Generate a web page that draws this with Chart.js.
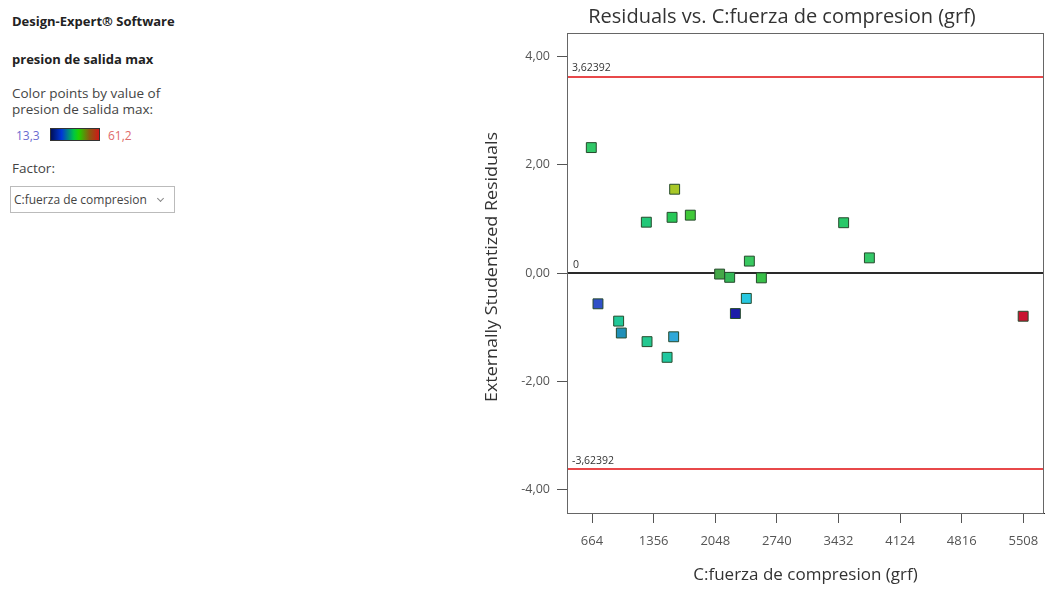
<!DOCTYPE html>
<html>
<head>
<meta charset="utf-8">
<script src="https://cdn.jsdelivr.net/npm/chart.js@4.4.1/dist/chart.umd.min.js"></script>
<style>
  html, body { margin: 0; padding: 0; background: #fff; }
  body { width: 1045px; height: 589px; position: relative; overflow: hidden; font-family: "Open Sans", sans-serif; color: #444; }
  #side { position: absolute; left: 12px; top: 0; width: 220px; font-size: 13.5px; }
  #side .b { font-weight: bold; position: absolute; left: 0; white-space: nowrap; color: #222; font-size: 13px; line-height: 18px; }
  #side .t { position: absolute; left: 0; white-space: nowrap; line-height: 18px; }
  #scale { position: absolute; left: 0; top: 126px; height: 18px; white-space: nowrap; font-size: 12px; }
  #scale .lo { position: absolute; left: 4px; top: 1px; color: #6b6bd0; }
  #scale .hi { position: absolute; left: 96px; top: 1px; color: #e06a6a; }
  #scale .bar { position: absolute; left: 38px; top: 2px; width: 50px; height: 13px; border: 1px solid #333; box-sizing: border-box;
    background: linear-gradient(to right, #00105a 0%, #0036d8 22%, #00c840 48%, #22d000 58%, #8a5a10 80%, #d01818 100%); }
  #factor { position: absolute; left: -2px; top: 186px; width: 165px; height: 27px; border: 1px solid #bbb; box-sizing: border-box; }
  #factor span { position: absolute; left: 3px; top: 4px; font-size: 12px; line-height: 17px; }
  #factor i { position: absolute; right: 11px; top: 9px; width: 4px; height: 4px; border-right: 1px solid #888; border-bottom: 1px solid #888; transform: rotate(45deg); }
  #plot { position: absolute; left: 470px; top: 0; width: 575px; height: 589px; }
</style>
</head>
<body>
<div id="side">
  <div class="b" style="top:12px">Design-Expert® Software</div>
  <div class="b" style="top:50px">presion de salida max</div>
  <div class="t" style="top:84px">Color points by value of</div>
  <div class="t" style="top:100px">presion de salida max:</div>
  <div id="scale"><span class="lo">13,3</span><span class="bar"></span><span class="hi">61,2</span></div>
  <div class="t" style="top:159px">Factor:</div>
  <div id="factor"><span>C:fuerza de compresion</span><i></i></div>
</div>
<div id="plot"><canvas id="residChart"></canvas></div>
<script>
// fuerza de compresion (grf) de cada corrida
var fuerza = [656, 1592, 1274, 1563, 1768, 2431, 2097, 2210, 2566, 2397,
              2274, 731, 963, 993, 1282, 1581, 1507, 3490, 3779, 5506];
// residuos externamente studentizados
var residuos = [2.32, 1.55, 0.94, 1.03, 1.07, 0.22, -0.02, -0.08, -0.09, -0.47,
                -0.75, -0.57, -0.89, -1.11, -1.27, -1.18, -1.56, 0.93, 0.28, -0.80];
// color de cada punto segun presion de salida max
var colores = ['#30c868', '#a8c828', '#22c878', '#28c858', '#40c838', '#38c860', '#44a848', '#34b858', '#38c048', '#28c8e0',
               '#1c1ca8', '#3050c8', '#20c898', '#2090b8', '#24c890', '#30a8d8', '#20c8a0', '#28c868', '#34c868', '#c81430'];

var xTicks = [664, 1356, 2048, 2740, 3432, 4124, 4816, 5508];
var yTicks = [-4, -2, 0, 2, 4];
var limite = 3.62392;
var xMin = 383, xMax = 5740;

function coma(v, d) { return v.toFixed(d).replace('.', ','); }

var puntos = fuerza.map(function (x, i) { return { x: x, y: residuos[i] }; });

// marco, titulo, titulo del eje Y y etiquetas de las lineas
var textos = {
    id: 'textos',
    afterDraw: function (chart) {
        var c = chart.ctx, a = chart.chartArea, ys = chart.scales.y;
        c.save();
        c.strokeStyle = '#666';
        c.lineWidth = 1;
        c.strokeRect(a.left + 0.5, a.top + 0.5, a.right - a.left - 1, a.bottom - a.top);
        c.fillStyle = '#333';
        c.font = '20px "Open Sans"';
        c.textAlign = 'center';
        c.textBaseline = 'middle';
        c.fillText('Residuals vs. C:fuerza de compresion (grf)', a.left + 215, 17);
        c.font = '10.5px "Open Sans"';
        c.textAlign = 'left';
        c.fillText(coma(limite, 5), a.left + 5, ys.getPixelForValue(limite) - 9);
        c.fillText('0', a.left + 6, ys.getPixelForValue(0) - 8);
        c.fillText(coma(-limite, 5), a.left + 5, ys.getPixelForValue(-limite) - 8);
        c.translate(a.left - 75, a.top + 234);
        c.rotate(-Math.PI / 2);
        c.scale(1.12, 1);
        c.textAlign = 'center';
        c.font = '16px "Open Sans"';
        c.fillText('Externally Studentized Residuals', 0, 0);
        c.restore();
    }
};

var ctx = document.getElementById('residChart').getContext('2d');
var chart = new Chart(ctx, {
    type: 'scatter',
    data: {
        datasets: [{
            data: puntos,
            pointStyle: 'rect',
            pointRadius: 7,
            backgroundColor: colores,
            borderColor: '#264a2c',
            borderWidth: 1,
            order: 0
        }, {
            type: 'line',
            data: [{ x: xMin, y: limite }, { x: xMax, y: limite }],
            borderColor: '#e8484a',
            borderWidth: 2,
            pointRadius: 0,
            order: 1
        }, {
            type: 'line',
            data: [{ x: xMin, y: -limite }, { x: xMax, y: -limite }],
            borderColor: '#e8484a',
            borderWidth: 2,
            pointRadius: 0,
            order: 1
        }, {
            type: 'line',
            data: [{ x: xMin, y: 0 }, { x: xMax, y: 0 }],
            borderColor: '#2a2a2a',
            borderWidth: 2,
            pointRadius: 0,
            order: 1
        }]
    },
    options: {
        responsive: true,
        maintainAspectRatio: false,
        animation: false,
        layout: { autoPadding: false, padding: { top: 33, right: 1, left: 0, bottom: 0 } },
        plugins: { legend: { display: false }, tooltip: { enabled: false } },
        scales: {
            x: {
                type: 'linear',
                min: xMin,
                max: xMax,
                afterBuildTicks: function (s) { s.ticks = xTicks.map(function (v) { return { value: v }; }); },
                afterFit: function (s) { s.height = 76; s.paddingLeft = 0; s.paddingRight = 0; },
                ticks: {
                    padding: 10,
                    color: '#555',
                    font: { family: 'Open Sans', size: 13 },
                    callback: function (v) { return String(v); }
                },
                grid: { drawOnChartArea: false, tickLength: 10, color: '#555' },
                border: { color: '#222' },
                title: {
                    display: true,
                    text: 'C:fuerza de compresion (grf)',
                    color: '#333',
                    font: { family: 'Open Sans', size: 17 },
                    padding: { top: 2, bottom: 4 }
                }
            },
            y: {
                min: -4.44,
                max: 4.44,
                afterBuildTicks: function (s) { s.ticks = yTicks.map(function (v) { return { value: v }; }); },
                afterFit: function (s) { s.width = 97; s.paddingTop = 0; s.paddingBottom = 0; },
                ticks: {
                    padding: 7,
                    color: '#555',
                    font: { family: 'Open Sans', size: 12.5 },
                    callback: function (v) { return coma(v, 2); }
                },
                grid: { drawOnChartArea: false, tickLength: 10, color: '#555' },
                border: { color: '#222' }
            }
        }
    },
    plugins: [textos]
});
</script>
</body>
</html>
